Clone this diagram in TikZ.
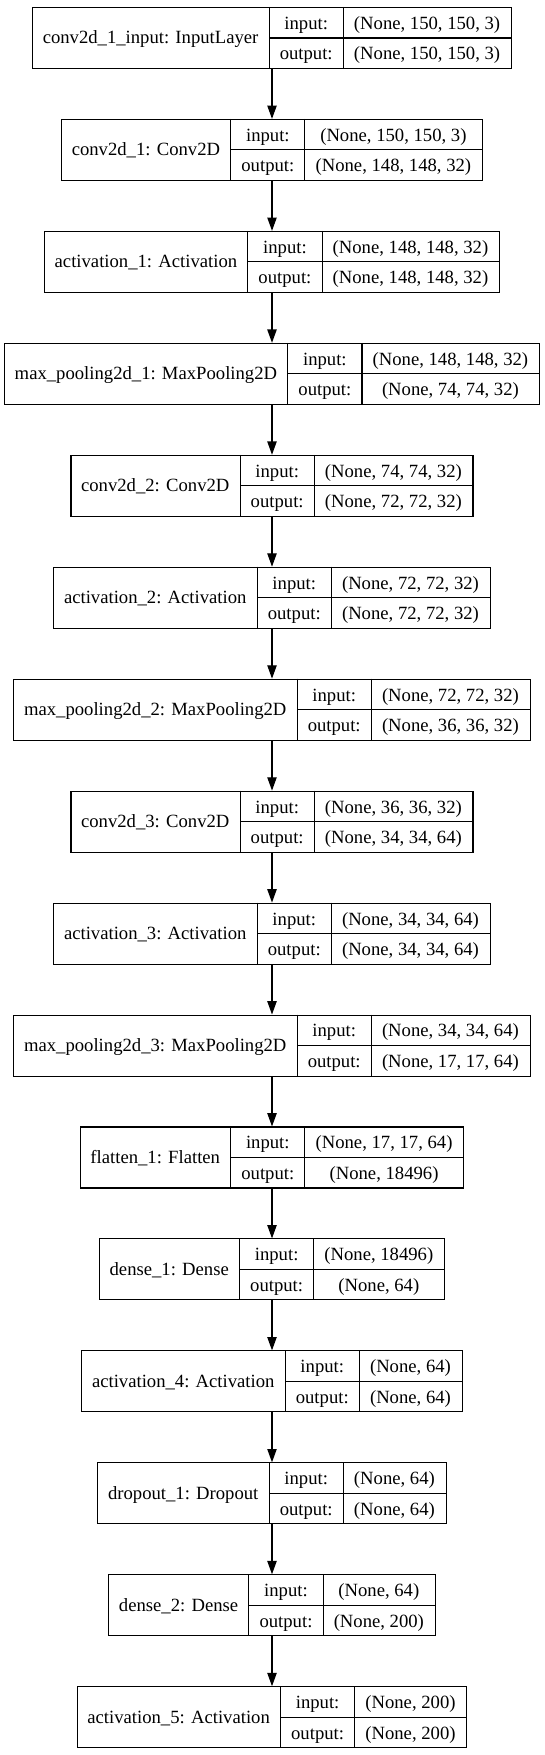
\documentclass[tikz,border=0pt]{standalone}
\usepackage{fontspec}
\setmainfont{Liberation Serif}
\usetikzlibrary{arrows.meta}
\newlength\recA \newlength\recB \newlength\recC \newlength\recD \newlength\recTmp
\newcommand\recfont{\fontsize{14pt}{16.8pt}\selectfont}
\tikzset{
  rec/.style={draw, line width=0.8pt, inner sep=0pt, minimum height=45.75pt},
  recline/.style={line width=0.8pt},
  txt/.style={font=\recfont, inner sep=0pt, anchor=base},
  arr/.style={line width=0.9pt, -{Triangle[length=10pt,width=7pt]}}
}
\newcommand\mkrecord[5]{%
  \pgfinterruptpicture
  \settowidth\recA{\recfont #3}\addtolength\recA{16pt}\global\recA=\recA
  \settowidth\recB{\recfont output:}\addtolength\recB{16pt}\global\recB=\recB
  \settowidth\recC{\recfont #4}\settowidth\recTmp{\recfont #5}%
  \ifdim\recTmp>\recC \recC=\recTmp\fi
  \addtolength\recC{16pt}\global\recC=\recC
  \endpgfinterruptpicture
  \global\recD=\recA \global\advance\recD by \recB
  \pgfmathsetmacro\recW{\recA+\recB+\recC}%
  \pgfmathsetmacro\recY{-(5.625+83.9625*#2+22.875)}%
  \node[rec, minimum width=\recW pt] (#1) at (204pt,\recY pt) {};
  \draw[recline] ([xshift=\recA]#1.north west) -- ([xshift=\recA]#1.south west);
  \draw[recline] ([xshift=\recD]#1.north west) -- ([xshift=\recD]#1.south west);
  \draw[recline] ([xshift=\recA]#1.west) -- (#1.east);
  \node[txt] (#1-name) at ([xshift=\recA/2, yshift=-4.5pt]#1.west) {#3};
  \node[txt] (#1-in) at ([xshift=\recA+\recB/2, yshift=6.4375pt]#1.west) {input:};
  \node[txt] (#1-out) at ([xshift=\recA+\recB/2, yshift=-16.4375pt]#1.west) {output:};
  \node[txt] (#1-ins) at ([xshift=\recD+\recC/2, yshift=6.4375pt]#1.west) {#4};
  \node[txt] (#1-outs) at ([xshift=\recD+\recC/2, yshift=-16.4375pt]#1.west) {#5};
}
\begin{document}
\begin{tikzpicture}
\useasboundingbox (0,0) rectangle (408pt,-1316.25pt);
\mkrecord{r0}{0}{conv2d\_1\_input: InputLayer}{(None, 150, 150, 3)}{(None, 150, 150, 3)}
\mkrecord{r1}{1}{conv2d\_1: Conv2D}{(None, 150, 150, 3)}{(None, 148, 148, 32)}
\mkrecord{r2}{2}{activation\_1: Activation}{(None, 148, 148, 32)}{(None, 148, 148, 32)}
\mkrecord{r3}{3}{max\_pooling2d\_1: MaxPooling2D}{(None, 148, 148, 32)}{(None, 74, 74, 32)}
\mkrecord{r4}{4}{conv2d\_2: Conv2D}{(None, 74, 74, 32)}{(None, 72, 72, 32)}
\mkrecord{r5}{5}{activation\_2: Activation}{(None, 72, 72, 32)}{(None, 72, 72, 32)}
\mkrecord{r6}{6}{max\_pooling2d\_2: MaxPooling2D}{(None, 72, 72, 32)}{(None, 36, 36, 32)}
\mkrecord{r7}{7}{conv2d\_3: Conv2D}{(None, 36, 36, 32)}{(None, 34, 34, 64)}
\mkrecord{r8}{8}{activation\_3: Activation}{(None, 34, 34, 64)}{(None, 34, 34, 64)}
\mkrecord{r9}{9}{max\_pooling2d\_3: MaxPooling2D}{(None, 34, 34, 64)}{(None, 17, 17, 64)}
\mkrecord{r10}{10}{flatten\_1: Flatten}{(None, 17, 17, 64)}{(None, 18496)}
\mkrecord{r11}{11}{dense\_1: Dense}{(None, 18496)}{(None, 64)}
\mkrecord{r12}{12}{activation\_4: Activation}{(None, 64)}{(None, 64)}
\mkrecord{r13}{13}{dropout\_1: Dropout}{(None, 64)}{(None, 64)}
\mkrecord{r14}{14}{dense\_2: Dense}{(None, 64)}{(None, 200)}
\mkrecord{r15}{15}{activation\_5: Activation}{(None, 200)}{(None, 200)}
\foreach \i [evaluate=\i as \j using int(\i+1)] in {0,...,14}
  \draw[arr] (r\i.south) -- (r\j.north);
\end{tikzpicture}
\end{document}
